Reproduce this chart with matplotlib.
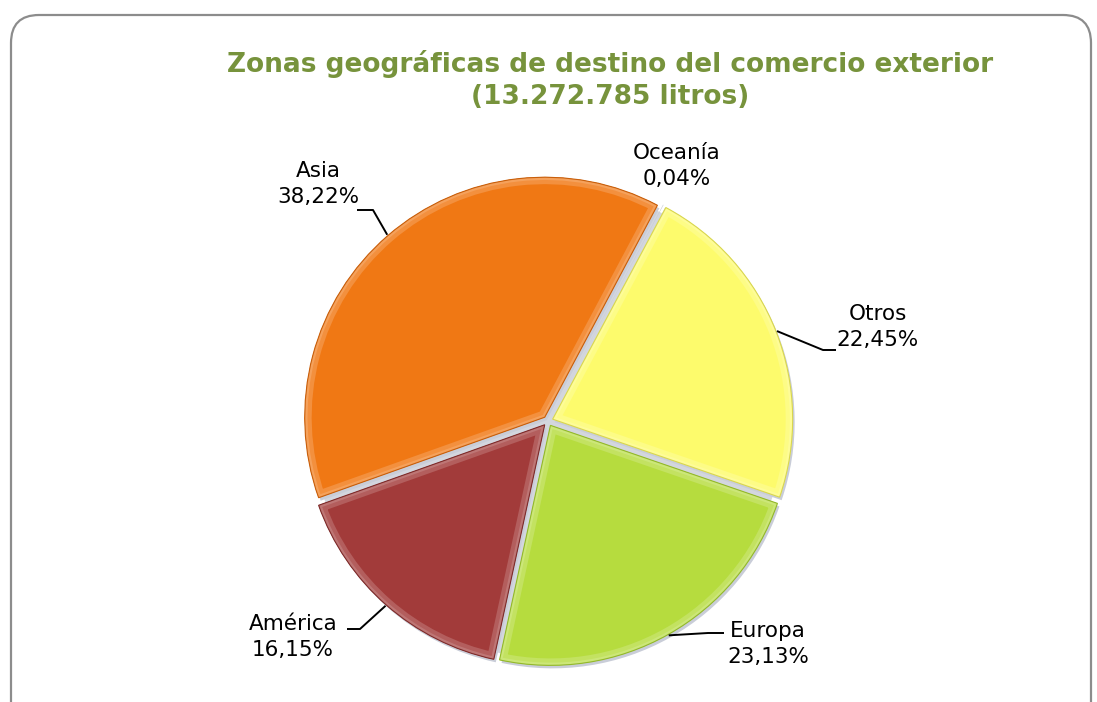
import numpy as np
import matplotlib.pyplot as plt
from matplotlib.patches import FancyBboxPatch, Wedge, Circle
from matplotlib.colors import to_rgb

# data (clockwise from the top)
zonas = ['Oceanía', 'Otros', 'Europa', 'América', 'Asia']
porcentajes = [0.04, 22.45, 23.13, 16.15, 38.22]
colores = ['#C8CCD6', '#FDFB6C', '#B6DC3E', '#A23B3A', '#F07814']
bordes = ['#C8CCD6', '#D8D650', '#93B82C', '#7E2C2B', '#C85F0C']

titulo = 'Zonas geográficas de destino del comercio exterior\n(13.272.785 litros)'

W, H = 1097, 702
cx, cy, R = 548, H - 421, 240

# label centres and leader elbows (pixel coords from top-left)
etiquetas = {
    'Oceanía': (677, 166, None),
    'Otros': (878, 327, [(823, 350), (836, 350)]),
    'Europa': (768, 644, [(708, 633), (724, 633)]),
    'América': (293, 637, [(360, 629), (347, 629)]),
    'Asia': (318, 184, [(373, 210), (357, 210)]),
}


def aclarar(c, f):
    r, g, b = to_rgb(c)
    return (r + (1 - r) * f, g + (1 - g) * f, b + (1 - b) * f)


fig = plt.figure(figsize=(W / 100, H / 100), dpi=100)
ax = fig.add_axes([0, 0, 1, 1])

# outer rounded frame (runs off the bottom/right like the original)
frame = FancyBboxPatch((11, -40), 1080, H - 15 + 40, boxstyle='round,pad=0,rounding_size=28',
                       fc='none', ec='#8C8C8C', lw=1.6, transform=ax.transData, clip_on=False)
ax.add_patch(frame)

explode = [5] * len(porcentajes)  # pie explode is in data units here

# shadow: grey disc under the gaps plus an offset copy for the bottom-right edge
ax.add_patch(Circle((cx, cy), R - 3, fc='#D3D6DE', lw=0, zorder=0))
sh, _ = ax.pie(porcentajes, colors=['#C9CDD8'] * 5, startangle=62, counterclock=False,
               explode=explode, radius=R, center=(cx + 2, cy - 3),
               wedgeprops=dict(lw=0), frame=True)

wedges, _ = ax.pie(porcentajes, colors=colores, startangle=62, counterclock=False,
                   explode=explode, radius=R, center=(cx, cy), frame=True,
                   wedgeprops=dict(lw=0))

# bevel: soft light rim clipped inside each slice, thin darker outline
for w, col, ec in zip(wedges[1:], colores[1:], bordes[1:]):
    rim = Wedge(w.center, w.r, w.theta1, w.theta2, fc='none', ec=aclarar(col, 0.18), lw=10)
    ax.add_patch(rim)
    rim.set_clip_path(w)
    rim.set_zorder(w.get_zorder() + 0.1)
    rim2 = Wedge(w.center, w.r, w.theta1, w.theta2, fc='none', ec=aclarar(col, 0.3), lw=4)
    ax.add_patch(rim2)
    rim2.set_clip_path(w)
    rim2.set_zorder(w.get_zorder() + 0.2)
    edge = Wedge(w.center, w.r, w.theta1, w.theta2, fc='none', ec=ec, lw=0.8)
    ax.add_patch(edge)
    edge.set_zorder(w.get_zorder() + 0.3)

ax.set_xlim(0, W)
ax.set_ylim(0, H)
ax.set_aspect('equal')
ax.axis('off')

for w, zona, pct in zip(wedges, zonas, porcentajes):
    tx, ty, codo = etiquetas[zona]
    texto = zona + '\n' + ('%.2f' % pct).replace('.', ',') + '%'
    ax.text(tx, H - ty, texto, ha='center', va='center', fontsize=15.5,
            family=['DejaVu Sans'], color='black', linespacing=1.4)
    if codo is None:
        continue
    ang = np.deg2rad((w.theta1 + w.theta2) / 2)
    wx, wy = w.center
    px, py = wx + (R + 1) * np.cos(ang), wy + (R + 1) * np.sin(ang)
    xs = [px] + [c[0] for c in codo]
    ys = [py] + [H - c[1] for c in codo]
    ax.plot(xs, ys, color='black', lw=1.4, solid_capstyle='butt')

fig.text(610 / W, 1 - 80 / H, titulo, ha='center', va='center', fontsize=19,
         fontweight='bold', color='#77933C', family=['DejaVu Sans'],
         linespacing=1.35)

fig.savefig('out.png', dpi=100, facecolor='white')
